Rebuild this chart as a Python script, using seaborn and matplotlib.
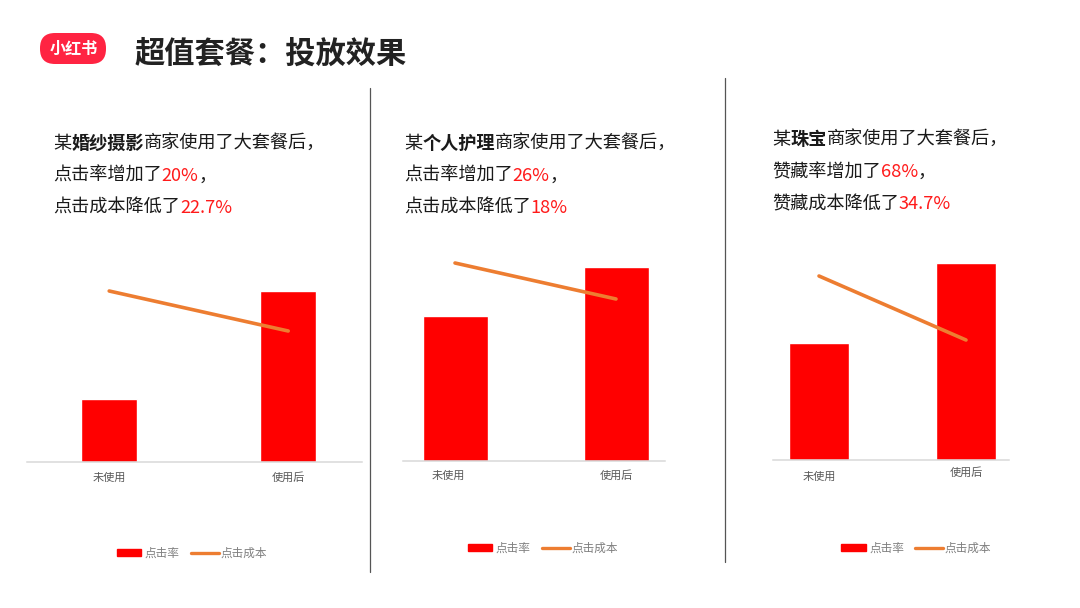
import matplotlib
matplotlib.use("Agg")
import matplotlib.pyplot as plt
from matplotlib.legend_handler import HandlerPatch
from matplotlib.lines import Line2D
from matplotlib.patches import FancyBboxPatch, Patch, Rectangle
from matplotlib.transforms import ScaledTranslation
import pandas as pd
import seaborn as sns

sns.set_theme(style="white")
FONT = ["Noto Sans CJK SC", "DejaVu Sans"]
plt.rcParams["font.family"] = FONT

W, H = 1080, 608
RED, ORANGE = "#FF0000", "#ED7D31"

categories = ["未使用", "使用后"]
series_bar = "点击率"
series_line = "点击成本"
title = "超值套餐：投放效果"
logo_text = "小红书"

bars_1 = [63, 171]
line_1 = [171, 131]
bars_2 = [144.5, 193.5]
line_2 = [197.5, 161.5]
bars_3 = [117, 197]
line_3 = [184, 120]

text_1 = [[("某", "k", False), ("婚纱摄影", "k", True), ("商家使用了大套餐后，", "k", False)],
          [("点击率增加了", "k", False), ("20%", "r", False), ("，", "k", False)],
          [("点击成本降低了", "k", False), ("22.7%", "r", False)]]
text_2 = [[("某", "k", False), ("个人护理", "k", True), ("商家使用了大套餐后，", "k", False)],
          [("点击率增加了", "k", False), ("26%", "r", False), ("，", "k", False)],
          [("点击成本降低了", "k", False), ("18%", "r", False)]]
text_3 = [[("某", "k", False), ("珠宝", "k", True), ("商家使用了大套餐后，", "k", False)],
          [("赞藏率增加了", "k", False), ("68%", "r", False), ("，", "k", False)],
          [("赞藏成本降低了", "k", False), ("34.7%", "r", False)]]

fig = plt.figure(figsize=(W / 100, H / 100), dpi=100, facecolor="white")


def fx(px):
    return px / W


def fy(py):
    return 1 - py / H


def short_bar(legend, orig_handle, xdescent, ydescent, width, height, fontsize):
    return Rectangle((-xdescent + width * 0.07, -ydescent), width * 0.86, height)


def panel(bars, line, ax_l, ax_r, base, c0, c1, bw, pads, shifts, legend_xy):
    top = 230
    ax = fig.add_axes([fx(ax_l), fy(base), (ax_r - ax_l) / W, (base - top) / H])
    ax.patch.set_alpha(0)
    df = pd.DataFrame({"cat": categories, "bar": bars, "line": line})
    sns.barplot(data=df, x="cat", y="bar", color=RED, saturation=1, width=bw / (c1 - c0), ax=ax)
    sns.lineplot(data=df, x="cat", y="line", color=ORANGE, linewidth=2.6, sort=False, ax=ax)
    span = c1 - c0
    ax.set_xlim((ax_l - c0) / span, (ax_r - c0) / span)
    ax.set_ylim(0, base - top)
    ax.set_xlabel("")
    ax.set_ylabel("")
    ax.set_yticks([])
    for s in ("top", "left", "right"):
        ax.spines[s].set_visible(False)
    ax.spines["bottom"].set_color("#D9D9D9")
    ax.spines["bottom"].set_linewidth(1.1)
    ax.tick_params(axis="x", length=0, labelsize=8, labelcolor="#595959")
    for tick, pad, dx in zip(ax.xaxis.get_major_ticks(), pads, shifts):
        tick.set_pad(pad)
        tick.label1.set_transform(tick.label1.get_transform()
                                  + ScaledTranslation(dx / 100, 0, fig.dpi_scale_trans))
    handles = [Patch(color=RED, label=series_bar),
               Line2D([0], [0], color=ORANGE, linewidth=2.4, label=series_line)]
    fig.legend(handles=handles, loc="center", bbox_to_anchor=(fx(legend_xy[0]), fy(legend_xy[1])),
               ncol=2, frameon=False, fontsize=8.4, labelcolor="#7F7F7F", handlelength=2.4,
               handleheight=0.55, handletextpad=0.15, columnspacing=0.95, borderpad=0,
               handler_map={Patch: HandlerPatch(patch_func=short_bar)})
    return ax


def rich(x0, y_base, runs, size=13.1):
    rend = fig.canvas.get_renderer()
    x = x0
    for s, col, bold in runs:
        t = fig.text(fx(x), fy(y_base), s, fontsize=size, va="baseline", ha="left",
                     color="#FF1A1A" if col == "r" else "#1A1A1A",
                     fontweight="bold" if bold else "normal")
        x += t.get_window_extent(rend).width


panel(bars_1, line_1, 27, 362, 462, 109.2, 288.2, 56, (7.5, 7.5), (0, 0), (191, 553.5))
panel(bars_2, line_2, 403, 665, 460.5, 455, 616, 65, (7, 7), (-7, 0), (542, 548.5))
panel(bars_3, line_3, 773, 1009, 460, 819, 966, 59.5, (8.5, 5), (0, 0), (915.5, 548.5))

for lines, x0, y0 in ((text_1, 53, 149), (text_2, 404, 149), (text_3, 772, 145)):
    for i, runs in enumerate(lines):
        rich(x0, y0 + 32 * i, runs)

for x, y0, y1 in ((369.5, 88, 572), (724.5, 78, 562)):
    fig.add_artist(Line2D([fx(x), fx(x)], [fy(y0), fy(y1)], color="#555555", linewidth=0.9))

fig.add_artist(FancyBboxPatch((40, H - 64), 66, 31, boxstyle="round,pad=0,rounding_size=15",
                              transform=None, facecolor="#FF2442", edgecolor="none"))
fig.text(fx(73.5), fy(49), logo_text, color="white", fontsize=11.6, fontweight="bold",
         ha="center", va="center")
fig.text(fx(135), fy(53.5), title, color="#222222", fontsize=21.8, fontweight="bold",
         ha="left", va="center")

fig.savefig("out.png", dpi=100, facecolor="white")
